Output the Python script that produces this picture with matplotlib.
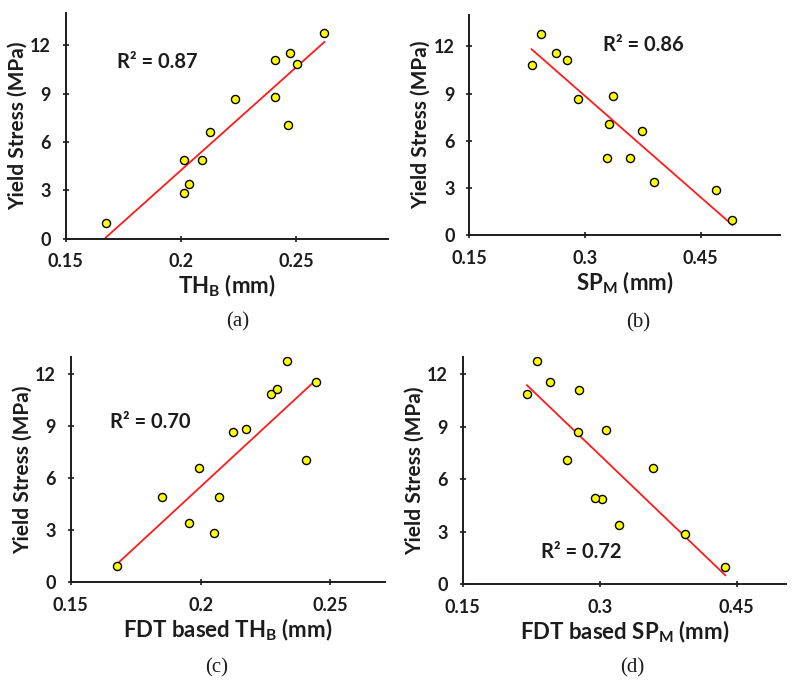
import numpy as np
import matplotlib
matplotlib.use('Agg')
import matplotlib.pyplot as plt

plt.rcParams['font.family'] = ['Lato', 'DejaVu Sans']
plt.rcParams['mathtext.fontset'] = 'custom'
plt.rcParams['mathtext.rm'] = 'Lato'
plt.rcParams['mathtext.bf'] = 'Lato:bold'

# yield stress of the 13 samples (MPa), same order for every panel
stress = [0.95, 2.86, 3.40, 4.89, 4.91, 6.61, 7.07, 8.68, 8.83, 10.84, 11.11, 11.56, 12.77]

th_b = [0.1674, 0.2014, 0.2037, 0.2014, 0.2090, 0.2126, 0.2467, 0.2237, 0.2407, 0.2504, 0.2407, 0.2476, 0.2624]
sp_m = [0.4911, 0.4699, 0.3895, 0.3281, 0.3584, 0.3744, 0.3307, 0.2914, 0.3368, 0.2308, 0.2762, 0.2620, 0.2425]
fdt_th_b = [0.1679, 0.2053, 0.1954, 0.1853, 0.2072, 0.1994, 0.2405, 0.2123, 0.2174, 0.2273, 0.2294, 0.2446, 0.2333]
fdt_sp_m = [0.4376, 0.3934, 0.3208, 0.3029, 0.2945, 0.3580, 0.2646, 0.2763, 0.3069, 0.2204, 0.2774, 0.2460, 0.2314]

r2_text = ['R\u00b2 = 0.87', 'R\u00b2 = 0.86', 'R\u00b2 = 0.70', 'R\u00b2 = 0.72']
xlabels = [r'TH$_{\mathbf{B}}$ (mm)', r'SP$_{\mathbf{M}}$ (mm)',
           r'FDT based TH$_{\mathbf{B}}$ (mm)', r'FDT based SP$_{\mathbf{M}}$ (mm)']
xticks = [[0.15, 0.2, 0.25], [0.15, 0.3, 0.45], [0.15, 0.2, 0.25], [0.15, 0.3, 0.45]]
xlims = [(0.15, 0.29), (0.15, 0.553), (0.15, 0.271), (0.15, 0.504)]
ylims = [14, 14, 13, 13]
r2_pos = [(0.1899, 10.95), (0.3757, 12.1), (0.1805, 9.24), (0.2803, 1.85)]
panel_names = ['(a)', '(b)', '(c)', '(d)']

W, H = 800, 693
# axes boxes in pixels: left, top, right, bottom
boxes = [(65.7, 13.3, 388, 238.7), (469.3, 15, 780, 235.3),
         (70.7, 356.7, 385, 582.3), (462.7, 356.7, 786, 584)]
panel_xy = [(238, 322), (638, 323), (217, 668), (632, 668)]
TXT = '#1c1c1c'


def fmtTick(v):
    s = ('%.2f' % v).rstrip('0')
    return s


def makeAx(fig, box, x, y, i):
    l, t, r, b = box
    ax = fig.add_axes([l / W, 1 - b / H, (r - l) / W, (b - t) / H])
    ax.scatter(x, y, s=34, color='#ffff00', edgecolor='black', linewidth=1.0, zorder=3)
    k, c = np.polyfit(x, y, 1)
    xs = np.array([min(x), max(x)])
    ax.plot(xs, k * xs + c, color='#ff1a1a', linewidth=1.3, zorder=2)
    ax.set_xlim(*xlims[i])
    ax.set_ylim(0, ylims[i])
    ax.set_yticks([0, 3, 6, 9, 12])
    ax.set_xticks(xticks[i])
    ax.set_xticklabels([fmtTick(v) for v in xticks[i]])
    for s in ['top', 'right']:
        ax.spines[s].set_visible(False)
    for s in ['left', 'bottom']:
        ax.spines[s].set_linewidth(1.4)
        ax.spines[s].set_color(TXT)
    ax.tick_params(direction='inout', length=5, width=1.2, color=TXT, labelsize=13)
    ax.tick_params(axis='x', pad=8)
    ax.tick_params(axis='y', pad=8)
    for lab in ax.get_xticklabels() + ax.get_yticklabels():
        lab.set_fontweight('bold')
        lab.set_color(TXT)
    ax.set_xlabel(xlabels[i], fontsize=16, fontweight='bold', color=TXT, labelpad=2)
    ax.set_ylabel('Yield Stress (MPa)', fontsize=15, fontweight='bold', color=TXT, labelpad=2)
    ax.text(r2_pos[i][0], r2_pos[i][1], r2_text[i], fontsize=14.5, fontweight='bold',
            color=TXT, ha='center', va='center')
    return ax


fig = plt.figure(figsize=(W / 100, H / 100), dpi=100, facecolor='white')
xs_all = [th_b, sp_m, fdt_th_b, fdt_sp_m]
for i in range(4):
    makeAx(fig, boxes[i], xs_all[i], stress, i)
    px, py = panel_xy[i]
    fig.text(px / W, 1 - py / H, panel_names[i], fontsize=15, family='Liberation Serif',
             ha='center', va='center', color=TXT)

fig.savefig('out.png', dpi=100, facecolor='white')
